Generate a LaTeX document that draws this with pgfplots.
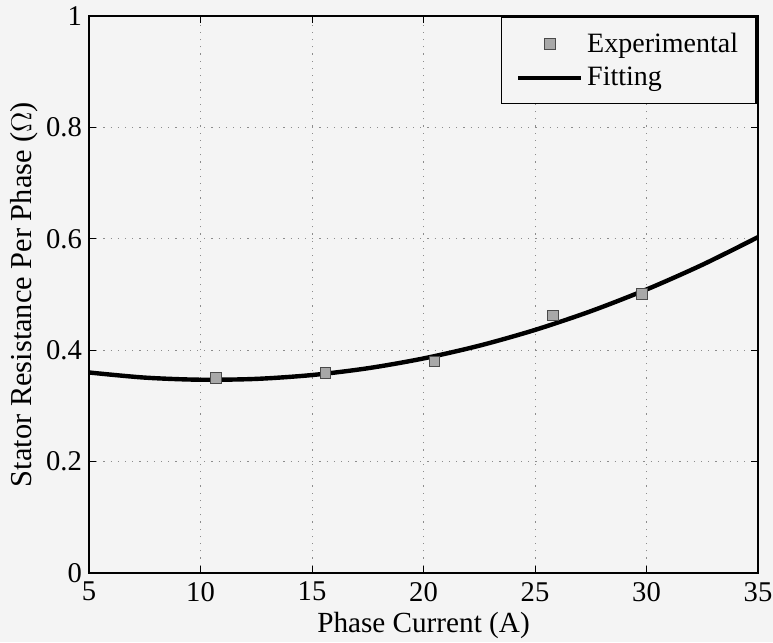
\documentclass[border=0pt]{standalone}
\usepackage{pgfplots}
\pgfplotsset{compat=1.18}
\usepackage{fontspec}
\setmainfont{Liberation Serif}
\usetikzlibrary{backgrounds}
\definecolor{markfill}{HTML}{A8A8A8}
\definecolor{markedge}{HTML}{4A4A4A}
\definecolor{bg}{HTML}{F4F4F4}
\begin{document}
\begin{tikzpicture}
\begin{axis}[
  name=ax,
  scale only axis,
  width=334.5pt, height=278.5pt,
  xmin=5, xmax=35, ymin=0, ymax=1,
  xtick={5,10,...,35},
  ytick={0,0.2,...,1},
  yticklabels={0,0.2,0.4,0.6,0.8,1},
  tick align=inside,
  major tick length=3.5pt,
  grid=major,
  grid style={dash pattern=on 0.6pt off 3pt, gray!90, line width=0.5pt},
  axis line style={line width=0.8pt},
  tick style={black, line width=0.5pt},
  /pgf/number format/assume math mode=true,
  tick label style={font=\fontsize{14.3}{16}\selectfont},
  xticklabel style={yshift=-1pt},
  xlabel={Phase Current (A)},
  ylabel={Stator Resistance Per Phase ($\Omega$)},
  xlabel style={font=\fontsize{14.6}{16}\selectfont, at={(axis description cs:0.5,-0.0934)}, anchor=center},
  ylabel style={font=\fontsize{15.2}{17}\selectfont, at={(axis description cs:-0.0972,0.5)}, anchor=center},
  legend style={at={(0.998,0.998)}, anchor=north east, draw=black, line width=0.6pt,
    fill=bg,
    font=\fontsize{14}{15}\selectfont, inner xsep=7pt, inner ysep=5.5pt,
    row sep=2pt, cells={anchor=west}},
]
\addplot[only marks, mark=square*, mark size=2.6pt,
  mark options={fill=markfill, draw=markedge, line width=0.5pt},
  legend image code/.code={\draw[mark options={fill=markfill, draw=markedge}] plot coordinates {(16pt,0)};}]
coordinates {
(10.7,0.350)
(15.6,0.359)
(20.5,0.380)
(25.8,0.462)
(29.8,0.501)
};
\addlegendentry{Experimental}
\addplot[black, line width=2.2pt, smooth,
  legend image code/.code={\draw[black, line width=2.2pt] (0pt,0) -- (31.5pt,0);}]
coordinates {
(5,0.3600)
(7.5,0.3508)
(10,0.3470)
(12.5,0.3485)
(15,0.3554)
(17.5,0.3676)
(20,0.3852)
(22.5,0.4081)
(25,0.4364)
(27.5,0.4700)
(30,0.5090)
(32.5,0.5533)
(35,0.6030)
};
\addlegendentry{Fitting}
\end{axis}
\pgfresetboundingbox
\path ([shift={(-44.5pt,-34.5pt)}]ax.south west) rectangle ([shift={(7.5pt,8pt)}]ax.north east);
\begin{scope}[on background layer]
\fill[bg] (current bounding box.south west) rectangle (current bounding box.north east);
\end{scope}
\end{tikzpicture}
\end{document}
